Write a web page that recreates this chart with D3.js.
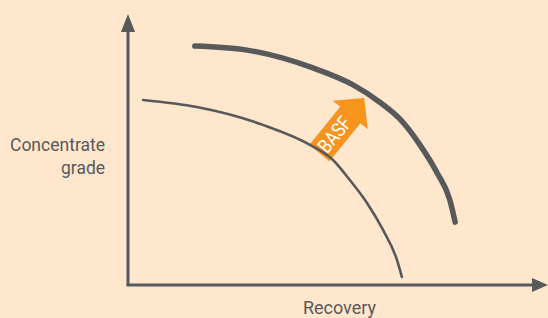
<!DOCTYPE html>
<html>
<head>
<meta charset="utf-8">
<script src="https://cdn.jsdelivr.net/npm/d3@7"></script>
<style>
  body { margin: 0; background: #fee7cd; }
  svg { display: block; }
  text { font-family: Roboto, "Liberation Sans", sans-serif; fill: #58595b; }
</style>
</head>
<body>
<div id="chart"></div>
<script>
// curve points (recovery, grade) in arbitrary 0-100 units
let currentX = [3.7, 16.8, 32.9, 44.4, 50.0, 54.1, 58.3, 62.2, 65.6, 66.8]
let currentY = [68.5, 65.9, 59.3, 51.9, 46.3, 38.9, 30.4, 20.4, 9.3, 3.0]
let basfX = [16.3, 29.0, 45.1, 54.9, 61.5, 66.3, 71.2, 75.4, 78.5, 79.8]
let basfY = [88.5, 87.0, 80.4, 74.1, 67.6, 61.5, 51.9, 41.5, 31.5, 23.3]
// improvement arrow: base -> tip
let arrowFrom = [47.3, 50.0]
let arrowTo = [57.6, 69.3]
let arrowLabel = 'BASF'
let xLabel = 'Recovery'
let yLabel = ['Concentrate', 'grade']
let yLabelWidths = [95, 44]

let W = 548, H = 318
let grey = '#58595b', orange = '#f7941d'

let svg = d3.select('#chart').append('svg')
    .attr('width', W).attr('height', H)

svg.append('rect').attr('width', W).attr('height', H).attr('fill', '#fee7cd')

let x = d3.scaleLinear().domain([0, 100]).range([128, 538])
let y = d3.scaleLinear().domain([0, 100]).range([285, 15])

// axes with arrowheads
svg.append('line')
    .attr('x1', x(0)).attr('y1', y(0)).attr('x2', x(0)).attr('y2', 30)
    .attr('stroke', grey).attr('stroke-width', 3)
svg.append('path')
    .attr('d', d3.line()([[x(0), 14], [x(0) - 7, 32], [x(0) + 7, 32]]) + 'Z')
    .attr('fill', grey)
svg.append('line')
    .attr('x1', x(0) - 1.5).attr('y1', y(0)).attr('x2', 535).attr('y2', y(0))
    .attr('stroke', grey).attr('stroke-width', 3)
svg.append('path')
    .attr('d', d3.line()([[548, y(0)], [532, y(0) - 7], [532, y(0) + 7]]) + 'Z')
    .attr('fill', grey)

svg.append('text')
    .attr('x', 303).attr('y', 314)
    .attr('textLength', 73)
    .attr('lengthAdjust', 'spacingAndGlyphs')
    .style('font-size', '19px')
    .text(xLabel)

svg.selectAll('.ylab')
    .data(yLabel)
    .enter()
    .append('text')
    .attr('class', 'ylab')
    .attr('x', function(d, i) { return 105 - yLabelWidths[i] })
    .attr('y', function(d, i) { return 151 + i * 23 })
    .attr('textLength', function(d, i) { return yLabelWidths[i] })
    .attr('lengthAdjust', 'spacingAndGlyphs')
    .style('font-size', '19px')
    .text(function(d) { return d })

// arrow
let ax0 = x(arrowFrom[0]), ay0 = y(arrowFrom[1])
let ax1 = x(arrowTo[0]), ay1 = y(arrowTo[1])
let len = Math.hypot(ax1 - ax0, ay1 - ay0)
let ang = Math.atan2(ay1 - ay0, ax1 - ax0) * 180 / Math.PI
let sw = 13, hw = 22.5, hl = 22
let ag = svg.append('g')
    .attr('transform', 'translate(' + ax0 + ',' + ay0 + ') rotate(' + ang + ')')
ag.append('path')
    .attr('d', d3.line()([[-4, -sw], [len - hl, -sw], [len - hl, -hw], [len, 0],
                          [len - hl, hw], [len - hl, sw], [-4, sw]]) + 'Z')
    .attr('fill', orange)
ag.append('text')
    .attr('x', 0).attr('y', 7)
    .attr('textLength', 40)
    .attr('lengthAdjust', 'spacingAndGlyphs')
    .style('font-size', '20px')
    .style('fill', '#fff')
    .text(arrowLabel)

let line = d3.line()
    .x(function(d) { return x(d[0]) })
    .y(function(d) { return y(d[1]) })
    .curve(d3.curveMonotoneX)

svg.append('path')
    .datum(d3.zip(currentX, currentY))
    .attr('d', line)
    .attr('fill', 'none')
    .attr('stroke', grey)
    .attr('stroke-width', 2.6)
    .attr('stroke-linecap', 'round')

svg.append('path')
    .datum(d3.zip(basfX, basfY))
    .attr('d', line)
    .attr('fill', 'none')
    .attr('stroke', grey)
    .attr('stroke-width', 5.5)
    .attr('stroke-linecap', 'round')
</script>
</body>
</html>
